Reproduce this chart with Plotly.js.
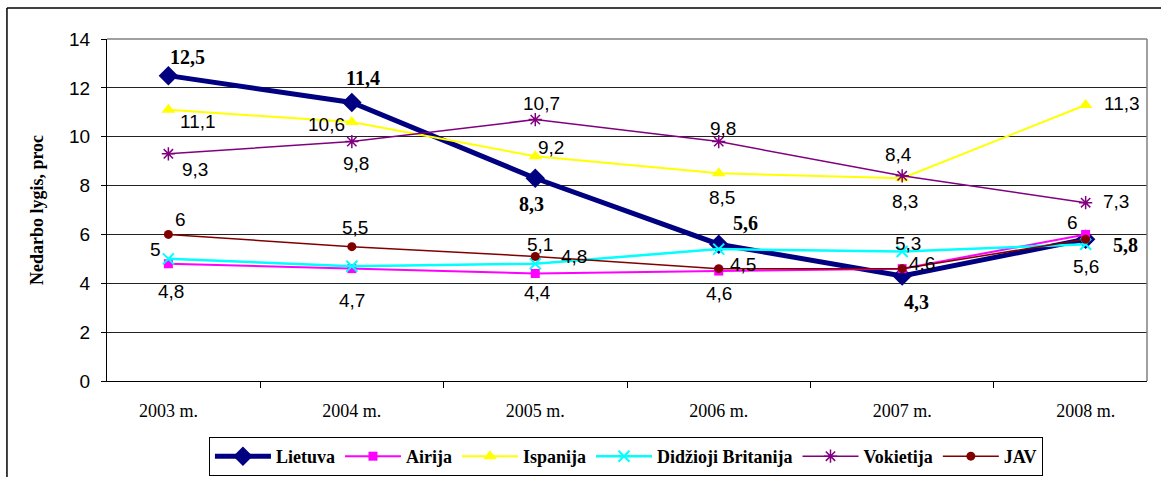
<!DOCTYPE html>
<html>
<head>
<meta charset="utf-8">
<script src="https://cdn.plot.ly/plotly-3.0.1.min.js"></script>
<style>
html,body{margin:0;padding:0;background:#fff;}
#chart{width:1161px;height:477px;}
</style>
</head>
<body>
<div id="chart"></div>
<script>
// ---- data ----
const years = ['2003 m.', '2004 m.', '2005 m.', '2006 m.', '2007 m.', '2008 m.'];
const lietuva   = [12.5, 11.4, 8.3, 5.6, 4.3, 5.8];
const airija    = [4.8, 4.6, 4.4, 4.5, 4.6, 6.0];
const ispanija  = [11.1, 10.6, 9.2, 8.5, 8.3, 11.3];
const britanija = [5.0, 4.7, 4.8, 5.4, 5.3, 5.6];
const vokietija = [9.3, 9.8, 10.7, 9.8, 8.4, 7.3];
const jav       = [6.0, 5.5, 5.1, 4.6, 4.6, 5.8];

// which points carry a value label (as shown in the original)
const lblLietuva   = [true, true, true, true, true, true];
const lblAirija    = [true, false, true, true, true, true];
const lblIspanija  = [true, true, true, true, true, true];
const lblBritanija = [true, true, true, false, true, true];
const lblVokietija = [true, true, true, true, true, true];
const lblJav       = [true, true, true, true, false, false];

// ---- styles ----
const SANS = 'Liberation Sans, Arial, sans-serif';
const SERIF = 'Liberation Serif, Times New Roman, serif';

// label offsets in pixels [dx, dy] (dy positive = downwards)
const offLietuva   = [[19,-19],[11,-25],[-4,26],[27,-21],[14,26],[40,6]];
const offAirija    = [[3,28],[0,0],[2,19],[24,-7],[20,-5],[-13,-12]];
const offIspanija  = [[30,12],[-25,2],[16,-9],[3,24],[3,23],[36,-1]];
const offBritanija = [[-13,-9],[0,34],[39,-7],[0,0],[6,-8],[0,22]];
const offVokietija = [[27,16],[4,22],[6,-16],[4,-13],[-4,-21],[30,-1]];
const offJav       = [[12,-15],[3,-19],[5,-12],[0,25],[0,0],[0,0]];

const series = [
  {name:'Lietuva', y:lietuva, lbl:lblLietuva, off:offLietuva, color:'#000080', width:5,
   marker:{symbol:'diamond', size:15, color:'#000080'}, font:{family:SERIF, size:20, color:'#000', weight:'bold'}},
  {name:'Airija', y:airija, lbl:lblAirija, off:offAirija, color:'#FF00FF', width:2,
   marker:{symbol:'square', size:9, color:'#FF00FF'}, font:{family:SANS, size:19, color:'#000'}},
  {name:'Ispanija', y:ispanija, lbl:lblIspanija, off:offIspanija, color:'#FFFF00', width:2,
   marker:{symbol:'triangle-up', size:12, color:'#FFFF00'}, font:{family:SANS, size:19, color:'#000'}},
  {name:'Didžioji Britanija', y:britanija, lbl:lblBritanija, off:offBritanija, color:'#00FFFF', width:2.5,
   marker:{symbol:'x-thin-open', size:11, color:'#00FFFF', line:{color:'#00FFFF', width:2}}, font:{family:SANS, size:19, color:'#000'}},
  {name:'Vokietija', y:vokietija, lbl:lblVokietija, off:offVokietija, color:'#800080', width:1.5,
   marker:{symbol:'asterisk-open', size:11, color:'#800080', line:{color:'#800080', width:1.5}}, font:{family:SANS, size:19, color:'#000'}},
  {name:'JAV', y:jav, lbl:lblJav, off:offJav, color:'#800000', width:1.5,
   marker:{symbol:'circle', size:9, color:'#800000'}, font:{family:SANS, size:19, color:'#000'}}
];

const fmt = v => String(v).replace('.', ',');

const traces = series.map(s => ({
  type:'scatter', mode:'lines+markers', name:s.name, x:years, y:s.y,
  line:{color:s.color, width:s.width}, marker:s.marker, hoverinfo:'skip', cliponaxis:false
}));

const annotations = [];
series.forEach(s => {
  s.y.forEach((v, i) => {
    if (!s.lbl[i]) return;
    annotations.push({
      x: years[i], y: v, xref:'x', yref:'y', text: fmt(v), showarrow:false,
      xanchor:'center', yanchor:'middle', xshift:s.off[i][0], yshift:-s.off[i][1],
      font:s.font
    });
  });
});

const layout = {
  width:1161, height:477,
  margin:{l:107, r:14, t:39, b:96, autoexpand:false},
  paper_bgcolor:'#fff', plot_bgcolor:'#fff',
  showlegend:true,
  legend:{
    orientation:'h', x:0.499, xanchor:'center', y:-0.1637, yanchor:'top',
    bordercolor:'#000', borderwidth:1, bgcolor:'#fff',
    font:{family:SERIF, size:18, color:'#000', weight:'bold'},
    itemwidth:56, tracegroupgap:0
  },
  xaxis:{
    type:'category', tickson:'boundaries', ticks:'outside', ticklen:6, tickcolor:'#000',
    showline:true, linecolor:'#000', linewidth:1, showgrid:false, zeroline:false, automargin:false,
    tickfont:{family:SERIF, size:18, color:'#000'}, ticklabelstandoff:13, fixedrange:true
  },
  yaxis:{
    range:[0,14], dtick:2, ticks:'outside', ticklen:5, tickcolor:'#000',
    showline:true, linecolor:'#000', linewidth:1, showgrid:true, gridcolor:'#222', gridwidth:1,
    zeroline:false, automargin:false, tickfont:{family:SANS, size:19, color:'#000'}, ticklabelstandoff:7,
    title:{text:'Nedarbo lygis, proc', font:{family:SERIF, size:18, color:'#000', weight:'bold'}, standoff:20},
    fixedrange:true
  },
  annotations:annotations,
  shapes:[
    {type:'line', xref:'paper', yref:'paper', x0:0, x1:1, y0:1, y1:1, line:{color:'#808080', width:1.5}},
    {type:'line', xref:'paper', yref:'paper', x0:1, x1:1, y0:0, y1:1, line:{color:'#808080', width:1.5}},
    {type:'line', xref:'paper', yref:'paper', x0:-0.0962, x1:1.05, y0:1.0906, y1:1.0906, line:{color:'#000', width:1.5}},
    {type:'line', xref:'paper', yref:'paper', x0:-0.0962, x1:-0.0962, y0:-0.35, y1:1.0906, line:{color:'#000', width:1.5}}
  ]
};

Plotly.newPlot('chart', traces, layout, {staticPlot:true, displayModeBar:false});
</script>
</body>
</html>
